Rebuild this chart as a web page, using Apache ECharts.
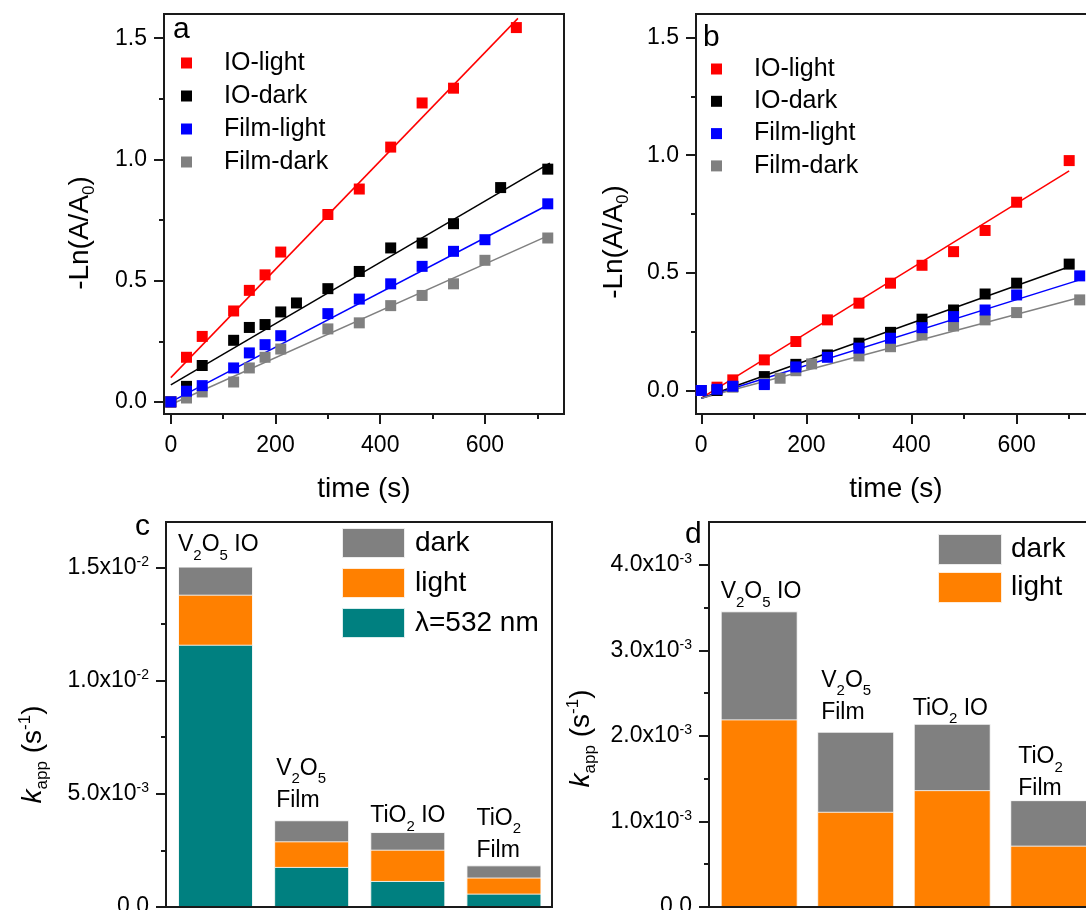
<!DOCTYPE html>
<html>
<head>
<meta charset="utf-8">
<script src="https://cdn.jsdelivr.net/npm/echarts@6/dist/echarts.min.js"></script>
<style>
  html, body { margin: 0; padding: 0; background: #fff; }
  #chart { width: 1086px; height: 910px; }
</style>
</head>
<body>
<div id="chart"></div>
<script>
// ---- Panel a: -Ln(A/A0) vs time, points [t (s), value] ----
const aIOLight   = [[0,0],[30,0.184],[60,0.270],[120,0.375],[150,0.460],[180,0.524],[210,0.618],[300,0.773],[360,0.878],[420,1.051],[480,1.233],[540,1.294],[660,1.544]];
const aIODark    = [[0,0],[30,0.064],[60,0.150],[120,0.254],[150,0.307],[180,0.319],[210,0.371],[240,0.408],[300,0.467],[360,0.538],[420,0.635],[480,0.655],[540,0.735],[630,0.884],[720,0.960]];
const aFilmLight = [[0,0],[30,0.044],[60,0.067],[120,0.140],[150,0.202],[180,0.236],[210,0.273],[300,0.364],[360,0.424],[420,0.487],[480,0.559],[540,0.621],[600,0.669],[720,0.817]];
const aFilmDark  = [[0,0],[30,0.016],[60,0.041],[120,0.082],[150,0.140],[180,0.184],[210,0.218],[300,0.301],[360,0.326],[420,0.397],[480,0.439],[540,0.487],[600,0.584],[720,0.676]];
// linear fits (end points)
const aFitIOLight   = [[0,0.100],[663,1.582]];
const aFitIODark    = [[0,0.070],[724,0.985]];
const aFitFilmLight = [[0,0.000],[721,0.813]];
const aFitFilmDark  = [[0,-0.011],[720,0.685]];

// ---- Panel b ----
const bIOLight   = [[0,0],[30,0.014],[60,0.045],[120,0.130],[180,0.208],[240,0.300],[300,0.371],[360,0.456],[420,0.532],[480,0.590],[540,0.680],[600,0.800],[700,0.977]];
const bIODark    = [[0,0],[30,0.000],[60,0.016],[120,0.059],[180,0.111],[240,0.151],[300,0.201],[360,0.247],[420,0.303],[480,0.342],[540,0.410],[600,0.456],[700,0.537]];
const bFilmLight = [[0,0],[30,0.005],[60,0.018],[120,0.025],[180,0.100],[240,0.141],[300,0.180],[360,0.222],[420,0.267],[480,0.314],[540,0.342],[600,0.406],[720,0.487]];
const bFilmDark  = [[0,0],[60,0.015],[120,0.030],[150,0.052],[180,0.084],[210,0.113],[300,0.147],[360,0.186],[420,0.236],[480,0.274],[540,0.300],[600,0.331],[720,0.385]];
const bFitIOLight   = [[0,-0.033],[700,0.933]];
const bFitIODark    = [[0,-0.033],[700,0.526]];
const bFitFilmLight = [[0,-0.033],[720,0.470]];
const bFitFilmDark  = [[0,-0.033],[720,0.395]];

// ---- Panels c and d: apparent rate constants k_app (s^-1) ----
const materials = ['V2O5 IO', 'V2O5\nFilm', 'TiO2 IO', 'TiO2\nFilm'];
const cDark  = [0.01503, 0.00383, 0.00331, 0.00184];
const cLight = [0.01379, 0.00290, 0.00253, 0.00130];
const c532   = [0.01158, 0.00177, 0.00115, 0.00059];
const dDark  = [0.003456, 0.002049, 0.002142, 0.001249];
const dLight = [0.002193, 0.001113, 0.001366, 0.000717];

// ---- tick values ----
const timeMajor = [0, 200, 400, 600];
const timeMinor = [100, 300, 500, 700];
const lnMajor = [0, 0.5, 1.0, 1.5];
const lnMinor = [0.25, 0.75, 1.25];
const cMajor = [0, 0.005, 0.010, 0.015];
const cMinor = [0.0025, 0.0075, 0.0125];
const dMajor = [0, 0.001, 0.002, 0.003, 0.004];
const dMinor = [0.0005, 0.0015, 0.0025, 0.0035];

const FONT = '"Liberation Sans", Arial, Helvetica, sans-serif';
const INK = '#000';
const FRAME = '#1a1a1a';
const RED = '#ff0000', BLACK = '#000000', BLUE = '#0000ff', GREY = '#808080';
const ORANGE = '#ff8000', TEAL = '#008080';

const positions = materials.map((_, i) => i + 1);

// chemical formula -> rich text with subscript digits
function chem(str) {
  return str.split('\n').map(line =>
    line.split(/(\d+)/).filter(p => p.length).map(p =>
      /^\d+$/.test(p) ? '{s|' + p + '}' : '{m|' + p + '}').join('')
  ).join('\n');
}
// 1.5x10^-2 style tick labels
function sci(v) {
  if (v === 0) return '{m|0.0}';
  const e = Math.floor(Math.log10(v) + 1e-9);
  const m = (v / Math.pow(10, e)).toFixed(1);
  return '{m|' + m + 'x10}{p|' + e + '}';
}

const tickLine = { color: FRAME, width: 2 };
const sciRich = {
  m: { fontSize: 23, fontFamily: FONT, color: INK },
  p: { fontSize: 14, fontFamily: FONT, color: INK, padding: [0, 0, 11, 0] }
};
const lnName = '{m|-Ln(A/A}{s|0}{m|)}';
const lnRich = {
  m: { fontSize: 28, lineHeight: 32, fontFamily: FONT, color: INK },
  s: { fontSize: 17, lineHeight: 17, fontFamily: FONT, color: INK, padding: [19, 0, 0, 0] }
};
const kName = '{k|k}{s|app}{m| (s}{p|-1}{m|)}';
const kRich = {
  k: { fontSize: 28, lineHeight: 32, fontStyle: 'italic', fontFamily: FONT, color: INK },
  m: { fontSize: 28, lineHeight: 32, fontFamily: FONT, color: INK },
  s: { fontSize: 17, lineHeight: 17, fontFamily: FONT, color: INK, padding: [19, 0, 0, 0] },
  p: { fontSize: 17, lineHeight: 17, fontFamily: FONT, color: INK, padding: [0, 0, 15, 0] }
};

function xTime(grid, min, major) {
  const ax = {
    gridIndex: grid, type: 'value', position: 'bottom', min: min, max: 751,
    axisLine: { show: false, onZero: false },
    splitLine: { show: false },
    axisTick: { show: true, length: major ? 10 : 5, lineStyle: tickLine, customValues: major ? timeMajor : timeMinor },
    axisLabel: major
      ? { customValues: timeMajor, margin: 20, fontSize: 23, color: INK, fontFamily: FONT }
      : { show: false }
  };
  if (major) {
    ax.name = 'time (s)';
    ax.nameLocation = 'middle';
    ax.nameGap = 61;
    ax.nameTextStyle = { fontSize: 28, color: INK, fontFamily: FONT };
  }
  return ax;
}
function yLn(grid, min, major, gap, shift) {
  const ax = {
    gridIndex: grid, type: 'value', position: 'left', min: min, max: 1.6,
    axisLine: { show: false, onZero: false },
    splitLine: { show: false },
    axisTick: { show: true, length: major ? 10 : 5, lineStyle: tickLine, customValues: major ? lnMajor : lnMinor },
    axisLabel: major
      ? { customValues: lnMajor, margin: 17, fontSize: 23, color: INK, fontFamily: FONT, formatter: v => v.toFixed(1) }
      : { show: false }
  };
  if (major) {
    ax.name = lnName;
    ax.nameLocation = 'middle';
    ax.nameRotate = 90;
    ax.nameGap = gap;
    ax.nameTextStyle = { rich: lnRich, padding: [0, shift, 0, 0] };
  }
  return ax;
}
function yK(grid, max, majorTicks, minorTicks, major, gap, shift) {
  const ax = {
    gridIndex: grid, type: 'value', position: 'left', min: 0, max: max,
    axisLine: { show: false, onZero: false },
    splitLine: { show: false },
    axisTick: { show: true, length: major ? 10 : 5, lineStyle: tickLine, customValues: major ? majorTicks : minorTicks },
    axisLabel: major
      ? { customValues: majorTicks, margin: 17, formatter: sci, rich: sciRich }
      : { show: false }
  };
  if (major) {
    ax.name = kName;
    ax.nameLocation = 'middle';
    ax.nameRotate = 90;
    ax.nameGap = gap;
    ax.nameTextStyle = { rich: kRich, padding: [0, shift, 0, 0] };
  }
  return ax;
}
function xBars(grid, min) {
  return {
    gridIndex: grid, type: 'value', position: 'bottom', min: min, max: 4.5, z: 5,
    axisLine: { show: true, onZero: false, lineStyle: { color: FRAME, width: 2 } },
    axisTick: { show: false }, axisLabel: { show: false }, splitLine: { show: false }
  };
}

function points(name, data, color, xi, yi) {
  return {
    type: 'scatter', name: name, data: data, xAxisIndex: xi, yAxisIndex: yi,
    symbol: 'rect', symbolSize: 11, itemStyle: { color: color, opacity: 1 }, z: 4, silent: true
  };
}
function fitLine(name, data, color, xi, yi) {
  return {
    type: 'line', name: name, data: data, xAxisIndex: xi, yAxisIndex: yi,
    symbol: 'none', showSymbol: false, lineStyle: { color: color, width: 1.5 }, z: 3, silent: true
  };
}

const barLabelRich = {
  m: { fontSize: 23, lineHeight: 32, fontFamily: FONT, color: INK },
  s: { fontSize: 15, lineHeight: 15, fontFamily: FONT, color: INK, padding: [22, 0, 0, 0] }
};
// label nudges [dx, dy] relative to the bar's top-left corner
const cLabelNudge = [[0, -5.5], [2, -4], [0, 0], [10, 1]];
const dLabelNudge = [[0, -3.5], [4, -3.5], [-1, 0.5], [8, 5]];

function barSeries(name, values, color, xi, yi, width, nudges) {
  return {
    type: 'bar', name: name, xAxisIndex: xi, yAxisIndex: yi,
    barWidth: width, barGap: '-100%', silent: true,
    itemStyle: { color: color, borderColor: 'rgba(255,255,255,0.85)', borderWidth: 1 },
    data: values.map((v, i) => {
      const item = { value: [positions[i], v] };
      if (nudges) {
        item.label = {
          show: true, position: 'top', align: 'left', distance: 0,
          offset: [-width / 2 + nudges[i][0], nudges[i][1]],
          formatter: chem(materials[i]), rich: barLabelRich
        };
      }
      return item;
    })
  };
}

const legendText = (size, lh, padLeft) => ({
  fontSize: size, lineHeight: lh, color: INK, fontFamily: FONT, padding: [0, 0, 0, padLeft]
});

const option = {
  backgroundColor: '#fff',
  animation: false,
  title: [
    { text: 'a', left: 173, top: 15, padding: 0, textStyle: { fontSize: 30, fontWeight: 'normal', color: INK, fontFamily: FONT } },
    { text: 'b', left: 703, top: 23, padding: 0, textStyle: { fontSize: 30, fontWeight: 'normal', color: INK, fontFamily: FONT } },
    { text: 'c', left: 135, top: 512, padding: 0, textStyle: { fontSize: 30, fontWeight: 'normal', color: INK, fontFamily: FONT } },
    { text: 'd', left: 685, top: 520, padding: 0, textStyle: { fontSize: 30, fontWeight: 'normal', color: INK, fontFamily: FONT } }
  ],
  grid: [
    { left: 164, top: 14, width: 400, height: 400, show: true, borderColor: FRAME, borderWidth: 2, backgroundColor: 'transparent', containLabel: false, outerBoundsMode: 'none' },
    { left: 696, top: 14, width: 400, height: 400, show: true, borderColor: FRAME, borderWidth: 2, backgroundColor: 'transparent', containLabel: false, outerBoundsMode: 'none' },
    { left: 166, top: 522, width: 386, height: 385, show: true, borderColor: FRAME, borderWidth: 2, backgroundColor: 'transparent', containLabel: false, outerBoundsMode: 'none' },
    { left: 709, top: 522, width: 388, height: 385, show: true, borderColor: FRAME, borderWidth: 2, backgroundColor: 'transparent', containLabel: false, outerBoundsMode: 'none' }
  ],
  xAxis: [
    xTime(0, -13, true), xTime(0, -13, false),
    xTime(1, -10, true), xTime(1, -10, false),
    xBars(2, 0.485), xBars(3, 0.48)
  ],
  yAxis: [
    yLn(0, -0.05, true, 68, 38), yLn(0, -0.05, false),
    yLn(1, -0.1, true, 66, 56), yLn(1, -0.1, false),
    yK(2, 0.017, cMajor, cMinor, true, 117, 80), yK(2, 0.017, cMajor, cMinor, false),
    yK(3, 0.0045, dMajor, dMinor, true, 112, 48), yK(3, 0.0045, dMajor, dMinor, false)
  ],
  legend: [
    { left: 181, top: 49, orient: 'vertical', padding: 0, itemWidth: 11, itemHeight: 11, itemGap: 5, icon: 'rect',
      selectedMode: false, data: ['IO-light', 'IO-dark', 'Film-light', 'Film-dark'], textStyle: legendText(25, 28, 27) },
    { left: 711, top: 55, orient: 'vertical', padding: 0, itemWidth: 11, itemHeight: 11, itemGap: 4.3, icon: 'rect',
      selectedMode: false, data: ['IO-light', 'IO-dark', 'Film-light', 'Film-dark'], textStyle: legendText(25, 28, 27) },
    { left: 341, top: 527, orient: 'vertical', padding: 0, itemWidth: 63, itemHeight: 30, itemGap: 8, icon: 'rect',
      selectedMode: false, data: ['dark', 'light', 'λ=532 nm'], textStyle: legendText(28, 30, 5) },
    { left: 937, top: 533, orient: 'vertical', padding: 0, itemWidth: 64, itemHeight: 31, itemGap: 5, icon: 'rect',
      selectedMode: false, data: ['dark', 'light'], textStyle: legendText(28, 31, 4) }
  ],
  series: [
    // panel a
    fitLine('IO-light fit a', aFitIOLight, RED, 0, 0),
    fitLine('IO-dark fit a', aFitIODark, BLACK, 0, 0),
    fitLine('Film-light fit a', aFitFilmLight, BLUE, 0, 0),
    fitLine('Film-dark fit a', aFitFilmDark, GREY, 0, 0),
    points('IO-light', aIOLight, RED, 0, 0),
    points('IO-dark', aIODark, BLACK, 0, 0),
    points('Film-dark', aFilmDark, GREY, 0, 0),
    points('Film-light', aFilmLight, BLUE, 0, 0),
    // panel b
    fitLine('IO-light fit b', bFitIOLight, RED, 2, 2),
    fitLine('IO-dark fit b', bFitIODark, BLACK, 2, 2),
    fitLine('Film-light fit b', bFitFilmLight, BLUE, 2, 2),
    fitLine('Film-dark fit b', bFitFilmDark, GREY, 2, 2),
    points('IO-light', bIOLight, RED, 2, 2),
    points('IO-dark', bIODark, BLACK, 2, 2),
    points('Film-dark', bFilmDark, GREY, 2, 2),
    points('Film-light', bFilmLight, BLUE, 2, 2),
    // panel c
    barSeries('dark', cDark, GREY, 4, 4, 75, cLabelNudge),
    barSeries('light', cLight, ORANGE, 4, 4, 75, null),
    barSeries('λ=532 nm', c532, TEAL, 4, 4, 75, null),
    // panel d
    barSeries('dark', dDark, GREY, 5, 6, 77, dLabelNudge),
    barSeries('light', dLight, ORANGE, 5, 6, 77, null)
  ]
};

const chart = echarts.init(document.getElementById('chart'), null, { renderer: 'canvas' });
chart.setOption(option);
</script>
</body>
</html>
